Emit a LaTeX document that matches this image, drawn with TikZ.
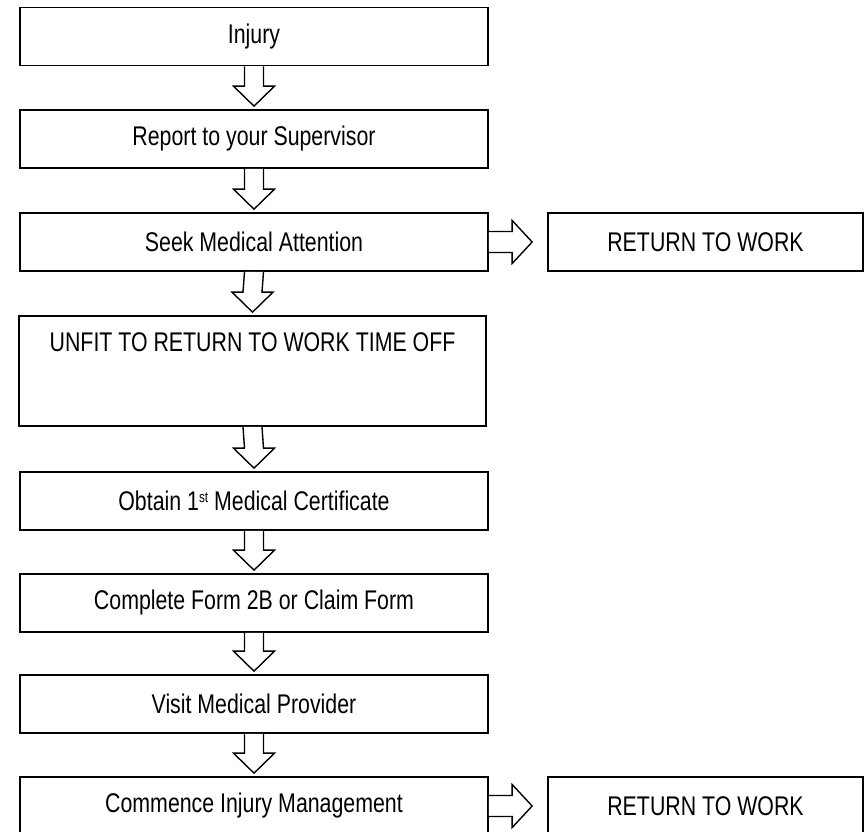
\documentclass[tikz,border=0pt]{standalone}
\usepackage{fontspec}
\setmainfont{Liberation Sans}[FakeStretch=0.79]
\usetikzlibrary{calc}
\tikzset{
  box/.style={draw, line width=1.7pt, rectangle, inner sep=0pt, minimum width=468pt, minimum height=58pt, font=\fontsize{27}{32}\selectfont, text=black},
  retbox/.style={box, minimum width=315pt},
  txt/.style={inner sep=0pt, font=\fontsize{27}{32}\selectfont},
  blk/.style={draw, line width=1.4pt, line join=miter, fill=white}
}
\newcommand{\vblock}[2]{%
  \draw[blk] ($(#1.south)+(-9.5,0)$) -- ($(#2.north)+(-9.5,-23)$) -- ($(#2.north)+(-20.5,-23)$)
    -- ($(#2.north)+(0,-3)$) -- ($(#2.north)+(20.5,-23)$) -- ($(#2.north)+(9.5,-23)$) -- ($(#1.south)+(9.5,0)$);}
\newcommand{\hblock}[2]{%
  \draw[blk] ($(#1.east)+(0,-10.5)$) -- ($(#2.west)+(-35,-10.5)$) -- ($(#2.west)+(-35,-21.5)$)
    -- ($(#2.west)+(-15,0)$) -- ($(#2.west)+(-35,21.5)$) -- ($(#2.west)+(-35,10.5)$) -- ($(#1.east)+(0,10.5)$);}
\begin{document}
\begin{tikzpicture}[x=1pt, y=-1pt]
\useasboundingbox[fill=white] (0,0) rectangle (865,831);
\node[box] (injury) at (254,36.5) {Injury};
\node[box] (report) at (254,139) {Report to your Supervisor};
\node[box] (seek) at (254,242) {Seek Medical Attention};
\node[box, minimum height=110pt, minimum width=467pt] (unfit) at (252.5,371) {};
\node[txt] (unfittxt) at ($(unfit.north)+(0,27)$) {UNFIT TO RETURN TO WORK TIME OFF};
\node[box] (obtain) at (254,501) {Obtain 1\raisebox{0.55ex}{\fontsize{15}{18}\selectfont st} Medical Certificate};
\node[box] (complete) at (254,603) {Complete Form 2B or Claim Form};
\node[box] (visit) at (254,704) {Visit Medical Provider};
\node[box] (commence) at (254,806) {Commence Injury Management};
\node[retbox] (ret1) at (705.5,242) {RETURN TO WORK};
\node[retbox] (ret2) at (705.5,806) {RETURN TO WORK};
\vblock{injury}{report}
\vblock{report}{seek}
\vblock{seek}{unfit}
\vblock{unfit}{obtain}
\vblock{obtain}{complete}
\vblock{complete}{visit}
\vblock{visit}{commence}
\hblock{seek}{ret1}
\hblock{commence}{ret2}
\end{tikzpicture}
\end{document}
